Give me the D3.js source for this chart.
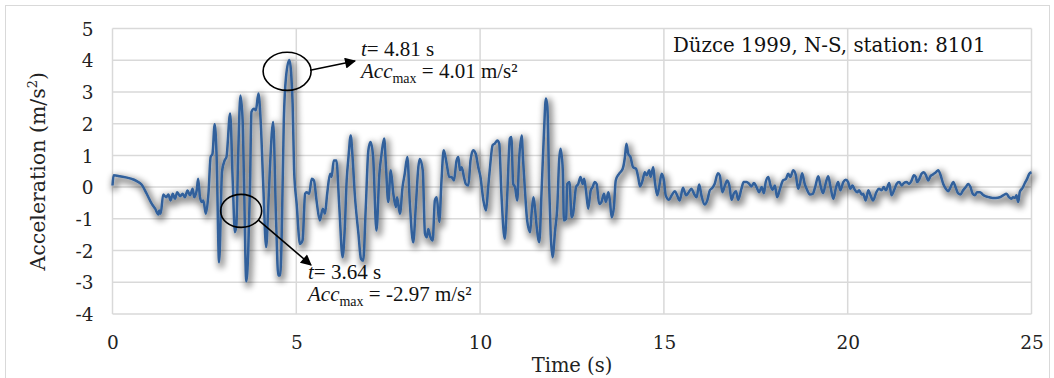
<!DOCTYPE html>
<html><head><meta charset="utf-8">
<script src="https://cdn.jsdelivr.net/npm/d3@7"></script>
<style>body{margin:0;background:#fff}svg{display:block}</style>
</head><body>
<svg id="c" width="1054" height="378"></svg>
<script>
// ---- data ----
const time = [0,0.03,0.2,0.66,0.79,0.93,1.07,1.16,1.25,1.27,1.31,1.38,1.46,1.52,1.58,1.64,1.70,1.76,1.84,1.91,1.97,2.04,2.11,2.18,2.22,2.29,2.33,2.38,2.43,2.47,2.54,2.61,2.67,2.72,2.78,2.83,2.90,2.98,3.05,3.10,3.20,3.27,3.33,3.37,3.42,3.48,3.54,3.58,3.64,3.69,3.74,3.78,3.85,3.90,3.97,4.03,4.10,4.18,4.24,4.28,4.37,4.45,4.51,4.56,4.60,4.66,4.72,4.81,4.90,4.94,5.01,5.10,5.17,5.24,5.28,5.35,5.42,5.48,5.55,5.64,5.72,5.78,5.84,5.92,5.96,6.02,6.09,6.17,6.26,6.32,6.37,6.42,6.48,6.53,6.59,6.69,6.76,6.82,6.89,6.96,7.02,7.09,7.18,7.26,7.32,7.39,7.44,7.50,7.57,7.64,7.71,7.74,7.82,7.89,7.95,8.02,8.09,8.18,8.25,8.32,8.36,8.44,8.50,8.55,8.59,8.65,8.71,8.77,8.82,8.89,8.95,9.01,9.09,9.16,9.22,9.29,9.36,9.41,9.45,9.50,9.56,9.61,9.68,9.74,9.81,9.88,9.95,10.01,10.09,10.16,10.22,10.27,10.34,10.40,10.47,10.52,10.58,10.67,10.74,10.81,10.85,10.90,10.95,11.01,11.06,11.13,11.17,11.22,11.28,11.36,11.40,11.45,11.49,11.54,11.61,11.67,11.74,11.79,11.83,11.88,11.92,11.97,12.04,12.10,12.15,12.19,12.25,12.28,12.34,12.37,12.43,12.49,12.53,12.61,12.67,12.73,12.79,12.83,12.88,12.94,13.01,13.06,13.12,13.17,13.24,13.30,13.37,13.42,13.49,13.53,13.58,13.64,13.69,13.78,13.88,13.94,13.98,14.03,14.09,14.16,14.24,14.30,14.35,14.42,14.48,14.53,14.60,14.64,14.71,14.75,14.82,14.87,14.94,15.00,15.05,15.14,15.21,15.30,15.36,15.43,15.52,15.60,15.66,15.75,15.82,15.89,15.96,16.02,16.11,16.18,16.25,16.32,16.38,16.47,16.52,16.59,16.66,16.72,16.78,16.84,16.90,16.96,17.02,17.11,17.17,17.25,17.32,17.38,17.45,17.52,17.59,17.66,17.72,17.77,17.84,17.90,17.96,18.02,18.08,18.16,18.24,18.32,18.38,18.44,18.52,18.59,18.65,18.70,18.76,18.83,18.90,18.97,19.05,19.11,19.20,19.26,19.33,19.41,19.47,19.53,19.61,19.68,19.74,19.80,19.88,19.95,20.01,20.07,20.13,20.19,20.26,20.31,20.38,20.42,20.49,20.56,20.62,20.69,20.78,20.85,20.92,20.98,21.04,21.13,21.19,21.26,21.33,21.40,21.47,21.53,21.60,21.67,21.74,21.80,21.85,21.89,21.95,22.01,22.07,22.13,22.19,22.25,22.32,22.40,22.46,22.52,22.60,22.67,22.73,22.80,22.87,22.94,23.00,23.07,23.14,23.21,23.28,23.34,23.40,23.46,23.52,23.60,23.67,23.76,23.85,23.94,24.03,24.14,24.23,24.32,24.39,24.45,24.50,24.55,24.59,24.64,24.68,24.76,24.82,24.88,24.94,25.00];
const acc = [0.05,0.37,0.34,0.19,0.08,-0.21,-0.53,-0.68,-0.86,-0.74,-0.84,-0.23,-0.32,-0.23,-0.42,-0.21,-0.37,-0.16,-0.29,-0.21,-0.32,-0.11,-0.26,-0.05,-0.32,-0.11,0.26,-0.32,-0.47,-0.42,-0.84,-0.21,0.95,1.05,1.98,1.05,-2.37,0.5,0.84,0.95,2.32,0.21,-1.42,-1.2,1.05,2.89,2.1,0,-2.97,-2.1,0,2.37,2.47,2.42,2.95,2.1,0.1,-1.89,-0.53,0.53,2.05,-1.05,-2.79,-2.79,-1.68,2.1,3.47,4.01,2.63,0.53,-0.53,-1.79,-1.68,-0.21,-0.16,-0.21,0.26,0.21,-0.42,-1.05,-0.68,-0.84,-0.21,0.42,0.32,0.84,0.84,-0.63,-2.21,-1.26,0.21,0.95,1.63,0.95,-0.21,-1.47,-2.26,-2.32,-0.63,1.16,1.42,0.95,-1.37,0.42,1.05,1.53,0.63,-0.47,0.53,-0.21,-0.63,-0.32,-0.84,0,0.42,0.95,-0.53,-1.74,-0.63,0.63,0.89,0.53,-1.47,-1.58,-1.32,-1.58,-1.68,-0.42,-0.32,-1.1,0.21,1.16,0.74,0.32,0.32,0.21,0.84,0.95,0.53,0.63,0.32,0.1,0.05,0.84,1.16,1.05,0.63,0.32,-0.42,-0.74,0,0.63,1.32,1.37,1.47,1.37,-0.21,-1.63,-0.21,1.53,1.58,0.1,0,-0.42,0.84,1.63,0.84,-0.1,-1.05,-1.42,-0.84,-0.32,-0.63,-1.26,-1.74,-0.21,1.79,2.79,2.53,0,-1.47,-2.21,-1.37,-0.63,0.84,1.21,0.53,-1.05,-1.0,0.1,0.16,-0.95,-0.84,0,0.1,0.32,0.1,0.26,-0.1,-0.68,-0.1,0,0.16,0.1,-0.53,-0.47,-0.21,-0.47,-0.16,-0.42,-0.95,-0.63,0.21,0.42,0.58,0.95,1.37,1.05,0.95,0.63,0.58,0.32,0.02,0.21,0.47,0.37,0.53,0.32,0.63,0.21,-0.26,0,0.42,0.21,-0.26,-0.4,-0.26,-0.13,-0.26,-0.42,-0.02,-0.26,-0.19,-0.05,-0.21,-0.32,0.08,-0.26,-0.55,-0.42,-0.1,-0.02,0.1,0.44,0.37,-0.16,0.05,0.21,0.05,-0.4,-0.21,-0.13,-0.4,-0.05,0.16,0.16,0.1,0.02,0.13,0,-0.16,0,-0.19,0.16,0.32,0.05,-0.08,0.05,-0.32,-0.05,0.21,0.26,0.42,0.32,0.53,0.37,-0.05,0.1,0.44,0.1,-0.1,-0.23,-0.21,-0.02,0.34,0.05,-0.19,0.16,0.34,0.02,-0.37,-0.02,0.16,-0.1,0.16,0.23,0.16,-0.05,0.05,-0.08,-0.16,-0.1,-0.23,-0.21,-0.42,-0.1,-0.26,-0.42,-0.16,-0.05,-0.1,0,-0.1,0.13,-0.26,-0.1,0.1,0.16,0.05,0.13,0.16,0.1,0.21,0.37,0.32,0.16,0.26,0.42,0.47,0.37,0.21,0.34,0.4,0.47,0.53,0.4,0.1,-0.05,-0.13,0,0.16,-0.02,-0.19,-0.23,-0.1,0,0.1,0,-0.21,-0.26,-0.16,-0.16,-0.23,-0.29,-0.32,-0.34,-0.34,-0.32,-0.26,-0.21,-0.32,-0.37,-0.32,-0.34,-0.26,-0.47,-0.16,-0.02,0.13,0.26,0.42,0.47];
const xTicks = [0, 5, 10, 15, 20, 25];
const yTicks = [-4, -3, -2, -1, 0, 1, 2, 3, 4, 5];
const titleText = "Düzce 1999, N-S, station: 8101";
const xTitle = "Time (s)";
const peakMax = {t: 4.81, a: 4.01};
const peakMin = {t: 3.64, a: -2.97};

// ---- layout ----
const svg = d3.select("#c");
const x = d3.scaleLinear().domain([0, 25]).range([112.5, 1031.5]);
const y = d3.scaleLinear().domain([-4, 5]).range([314, 28.5]);
const cambria = "'DejaVu Serif', serif";
const times = "'Liberation Serif', 'Times New Roman', serif";

// outer chart border
svg.append("rect").attr("x", 5.5).attr("y", 5.5).attr("width", 1044).attr("height", 420)
  .attr("fill", "none").attr("stroke", "#d9d9d9").attr("stroke-width", 1);

// defs: shadow + arrowhead
const defs = svg.append("defs");
const f = defs.append("filter").attr("id", "sh").attr("filterUnits", "userSpaceOnUse")
  .attr("x", 0).attr("y", 0).attr("width", 1054).attr("height", 378);
f.append("feMorphology").attr("in", "SourceAlpha").attr("operator", "dilate").attr("radius", 1.5).attr("result", "d");
f.append("feGaussianBlur").attr("in", "d").attr("stdDeviation", 3).attr("result", "b");
f.append("feOffset").attr("in", "b").attr("dx", 2).attr("dy", 3).attr("result", "o");
f.append("feComponentTransfer").attr("in", "o").attr("result", "o2")
  .append("feFuncA").attr("type", "linear").attr("slope", 0.42);
const m = f.append("feMerge");
m.append("feMergeNode").attr("in", "o2");
m.append("feMergeNode").attr("in", "SourceGraphic");
defs.append("marker").attr("id", "ah").attr("viewBox", "0 0 10 10").attr("refX", 9).attr("refY", 5)
  .attr("markerWidth", 14).attr("markerHeight", 11).attr("markerUnits", "userSpaceOnUse").attr("orient", "auto")
  .append("path").attr("d", "M0,0 L10,5 L0,10 Z").attr("fill", "#000");

// grid
svg.append("g").selectAll("line").data(yTicks).join("line")
  .attr("x1", x(0)).attr("x2", x(25)).attr("y1", d => y(d)).attr("y2", d => y(d))
  .attr("stroke", "#d9d9d9").attr("stroke-width", 1.5);
svg.append("g").selectAll("line").data(xTicks).join("line")
  .attr("y1", y(5)).attr("y2", y(-4)).attr("x1", d => x(d)).attr("x2", d => x(d))
  .attr("stroke", "#d9d9d9").attr("stroke-width", 1.5);

// axes labels (tick text only)
const yAxis = d3.axisLeft(y).tickValues(yTicks).tickSize(0).tickPadding(0).tickFormat(d => String(d));
const gy = svg.append("g").attr("transform", `translate(${x(0) - 19},0)`).call(yAxis);
gy.select(".domain").remove();
gy.selectAll("text").attr("font-family", cambria).attr("font-size", 18.5).attr("fill", "#222").attr("dy", "0.36em");
const xAxis = d3.axisBottom(x).tickValues(xTicks).tickSize(0).tickPadding(0).tickFormat(d => String(d));
const gx = svg.append("g").attr("transform", `translate(0,${y(-4) + 22})`).call(xAxis);
gx.select(".domain").remove();
gx.selectAll("text").attr("font-family", cambria).attr("font-size", 18.5).attr("fill", "#222").attr("dy", "0.71em");

// axis titles
svg.append("text").attr("x", (x(0) + x(25)) / 2).attr("y", 372).attr("text-anchor", "middle")
  .attr("font-family", cambria).attr("font-size", 19.5).attr("fill", "#222").text(xTitle);
const yl = svg.append("text").attr("transform", `translate(45,${(y(5) + y(-4)) / 2}) rotate(-90)`)
  .attr("text-anchor", "middle").attr("font-family", cambria).attr("font-size", 20.5).attr("fill", "#222");
yl.append("tspan").text("Acceleration (m/s");
yl.append("tspan").attr("font-size", 13).attr("dy", -8).text("2");
yl.append("tspan").attr("dy", 8).text(")");

// series
const pts = time.map((t, i) => [t, acc[i]]);
svg.append("path").datum(pts).attr("fill", "none").attr("stroke", "#30609b").attr("stroke-width", 2.5)
  .attr("stroke-linejoin", "round").attr("filter", "url(#sh)")
  .attr("d", d3.line().curve(d3.curveMonotoneX).x(d => x(d[0])).y(d => y(d[1])));

// title box text
svg.append("text").attr("x", 673).attr("y", 52).attr("font-family", cambria).attr("font-size", 19.8)
  .attr("fill", "#111").text(titleText);

// annotations
function ellipse(t, a, rx, ry) {
  svg.append("ellipse").attr("cx", x(t)).attr("cy", y(a)).attr("rx", rx).attr("ry", ry)
    .attr("fill", "none").attr("stroke", "#000").attr("stroke-width", 1.6);
}
function arrow(x1, y1, x2, y2) {
  svg.append("line").attr("x1", x1).attr("y1", y1).attr("x2", x2).attr("y2", y2)
    .attr("stroke", "#000").attr("stroke-width", 1.6).attr("marker-end", "url(#ah)");
}
function label(px, py, p) {
  const t1 = svg.append("text").attr("x", px).attr("y", py).attr("font-family", times).attr("font-size", 21).attr("fill", "#111");
  t1.append("tspan").attr("font-style", "italic").text("t");
  t1.append("tspan").text(`= ${p.t.toFixed(2)} s`);
  const t2 = svg.append("text").attr("x", px).attr("y", py + 22).attr("font-family", times).attr("font-size", 21).attr("fill", "#111");
  t2.append("tspan").attr("font-style", "italic").text("Acc");
  t2.append("tspan").attr("font-size", 14).attr("dy", 5).text("max");
  t2.append("tspan").attr("dy", -5).text(` = ${p.a.toFixed(2)} m/s²`);
}
ellipse(4.75, 3.65, 24, 19);
arrow(x(4.75) + 23, y(3.65) - 1, 355, 61);
label(361, 56, peakMax);
ellipse(3.5, -0.75, 20.5, 16.5);
arrow(x(3.5) + 17, y(-0.75) + 9, 311, 265);
label(308, 279, peakMin);
</script>
</body></html>
